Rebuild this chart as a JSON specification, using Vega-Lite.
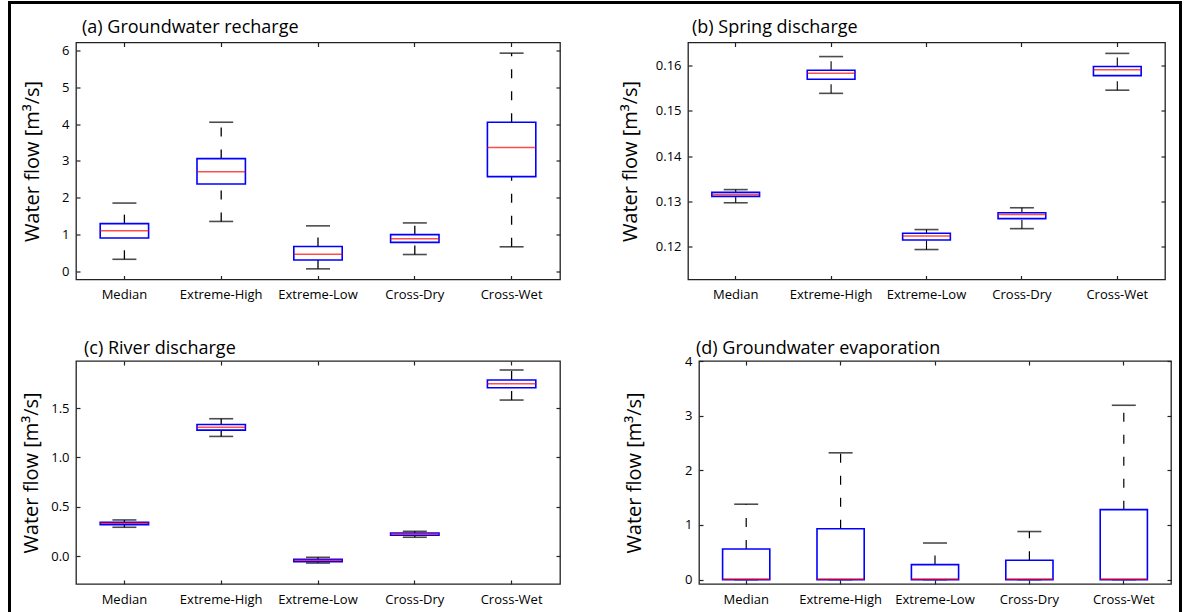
{
  "$schema": "https://vega.github.io/schema/vega-lite/v6.json",
  "background": "white",
  "padding": {"left": 8, "top": 1, "right": 0, "bottom": 0},
  "config": {
    "font": "Open Sans",
    "view": {"stroke": "#222222", "strokeWidth": 1.3},
    "axis": {
      "grid": false,
      "domain": false,
      "labelFont": "Open Sans",
      "labelFontSize": 13,
      "labelColor": "#000000",
      "tickColor": "#222222",
      "tickWidth": 1.2,
      "tickSize": -4,
      "titleFont": "Open Sans",
      "titleFontWeight": "normal",
      "titleColor": "#000000"
    },
    "title": {
      "font": "Open Sans",
      "fontSize": 18,
      "fontWeight": "normal",
      "color": "#000000",
      "anchor": "start",
      "frame": "group",
      "offset": 4.5
    }
  },
  "datasets": {
    "flow": [
      {"panel": "a", "scenario": "Median", "lo": 0.32, "q1": 0.90, "med": 1.10, "q3": 1.29, "hi": 1.85},
      {"panel": "a", "scenario": "Extreme-High", "lo": 1.35, "q1": 2.37, "med": 2.70, "q3": 3.06, "hi": 4.05},
      {"panel": "a", "scenario": "Extreme-Low", "lo": 0.06, "q1": 0.30, "med": 0.46, "q3": 0.67, "hi": 1.23},
      {"panel": "a", "scenario": "Cross-Dry", "lo": 0.45, "q1": 0.78, "med": 0.88, "q3": 0.99, "hi": 1.31},
      {"panel": "a", "scenario": "Cross-Wet", "lo": 0.66, "q1": 2.57, "med": 3.36, "q3": 4.05, "hi": 5.93},
      {"panel": "b", "scenario": "Median", "lo": 0.1297, "q1": 0.1311, "med": 0.1315, "q3": 0.1320, "hi": 0.1326},
      {"panel": "b", "scenario": "Extreme-High", "lo": 0.1538, "q1": 0.1569, "med": 0.1582, "q3": 0.1589, "hi": 0.1619},
      {"panel": "b", "scenario": "Extreme-Low", "lo": 0.1194, "q1": 0.1215, "med": 0.1224, "q3": 0.1230, "hi": 0.1238},
      {"panel": "b", "scenario": "Cross-Dry", "lo": 0.1240, "q1": 0.1262, "med": 0.1271, "q3": 0.1275, "hi": 0.1286},
      {"panel": "b", "scenario": "Cross-Wet", "lo": 0.1545, "q1": 0.1577, "med": 0.1590, "q3": 0.1597, "hi": 0.1626},
      {"panel": "c", "scenario": "Median", "lo": 0.294, "q1": 0.321, "med": 0.334, "q3": 0.345, "hi": 0.368},
      {"panel": "c", "scenario": "Extreme-High", "lo": 1.213, "q1": 1.277, "med": 1.307, "q3": 1.334, "hi": 1.392},
      {"panel": "c", "scenario": "Extreme-Low", "lo": -0.068, "q1": -0.054, "med": -0.040, "q3": -0.030, "hi": -0.010},
      {"panel": "c", "scenario": "Cross-Dry", "lo": 0.193, "q1": 0.213, "med": 0.226, "q3": 0.236, "hi": 0.253},
      {"panel": "c", "scenario": "Cross-Wet", "lo": 1.581, "q1": 1.706, "med": 1.747, "q3": 1.784, "hi": 1.885},
      {"panel": "d", "scenario": "Median", "lo": 0, "q1": 0, "med": 0.005, "q3": 0.56, "hi": 1.38},
      {"panel": "d", "scenario": "Extreme-High", "lo": 0, "q1": 0, "med": 0.005, "q3": 0.93, "hi": 2.32},
      {"panel": "d", "scenario": "Extreme-Low", "lo": 0, "q1": 0, "med": 0.005, "q3": 0.275, "hi": 0.67},
      {"panel": "d", "scenario": "Cross-Dry", "lo": 0, "q1": 0, "med": 0.005, "q3": 0.354, "hi": 0.88},
      {"panel": "d", "scenario": "Cross-Wet", "lo": 0, "q1": 0, "med": 0.005, "q3": 1.28, "hi": 3.19}
    ]
  },
  "spacing": 0,
  "hconcat": [
    {
      "width": 3, "height": 640,
      "data": {"values": []},
      "mark": "rect",
      "encoding": {},
      "view": {"fill": "#000000", "stroke": null}
    },
    {
      "spacing": 14.5,
      "vconcat": [
        {
          "width": 1168, "height": 3,
          "data": {"values": []},
          "mark": "rect",
          "encoding": {},
          "view": {"fill": "#000000", "stroke": null}
        },
        {
          "spacing": 8,
          "hconcat": [
            {
              "width": 1, "height": 1,
              "data": {"values": []},
              "mark": "rect",
              "encoding": {},
              "view": {"stroke": null}
            },
            {
              "spacing": 35.5,
              "vconcat": [
                {
                  "spacing": 57,
                  "hconcat": [
                    {
                      "width": 484, "height": 237,
                      "title": {"text": "(a) Groundwater recharge", "dx": 6},
                      "data": {"name": "flow"},
                      "transform": [{"filter": "datum.panel === 'a'"}],
                      "encoding": {
                        "x": {"field": "scenario", "type": "nominal", "sort": ["Median", "Extreme-High", "Extreme-Low", "Cross-Dry", "Cross-Wet"], "scale": {"paddingInner": 0, "paddingOuter": 0}, "axis": null}
                      },
                      "resolve": {"axis": {"x": "independent", "y": "independent"}},
                      "layer": [
                        {
                          "mark": {"type": "rule", "color": "#000000", "strokeWidth": 1.3, "strokeDash": [9, 13]},
                          "encoding": {
                            "x": {"field": "scenario", "type": "nominal", "sort": ["Median", "Extreme-High", "Extreme-Low", "Cross-Dry", "Cross-Wet"], "scale": {"paddingInner": 0, "paddingOuter": 0}, "axis": {"orient": "bottom", "title": null, "labelAngle": 0, "labelPadding": 13}},
                            "y": {"field": "lo", "type": "quantitative", "scale": {"domain": [-0.23, 6.22], "nice": false, "zero": false}, "axis": {"orient": "left", "values": [0, 1, 2, 3, 4, 5, 6], "labelPadding": 11, "title": "Water flow [m³/s]", "titleFontSize": 20, "titleX": -38, "titleBaseline": "alphabetic"}},
                            "y2": {"field": "q1"}
                          }
                        },
                        {
                          "mark": {"type": "rule", "color": "#000000", "strokeWidth": 1.3, "strokeDash": [9, 13]},
                          "encoding": {
                            "x": {"field": "scenario", "type": "nominal", "sort": ["Median", "Extreme-High", "Extreme-Low", "Cross-Dry", "Cross-Wet"], "scale": {"paddingInner": 0, "paddingOuter": 0}, "axis": {"orient": "top", "title": null, "labels": false}},
                            "y": {"field": "q3", "type": "quantitative", "scale": {"domain": [-0.23, 6.22], "nice": false, "zero": false}, "axis": {"orient": "right", "values": [0, 1, 2, 3, 4, 5, 6], "labels": false, "title": null}},
                            "y2": {"field": "hi"}
                          }
                        },
                        {
                          "mark": {"type": "tick", "orient": "horizontal", "color": "#000000", "size": 24, "thickness": 1.6},
                          "encoding": {"y": {"field": "lo", "type": "quantitative", "scale": {"domain": [-0.23, 6.22], "nice": false, "zero": false}, "axis": null}}
                        },
                        {
                          "mark": {"type": "tick", "orient": "horizontal", "color": "#000000", "size": 24, "thickness": 1.6},
                          "encoding": {"y": {"field": "hi", "type": "quantitative", "scale": {"domain": [-0.23, 6.22], "nice": false, "zero": false}, "axis": null}}
                        },
                        {
                          "mark": {"type": "bar", "width": {"band": 0.5}, "fill": "#ffffff", "stroke": "#0000ff", "strokeWidth": 1.6},
                          "encoding": {"y": {"field": "q1", "type": "quantitative", "scale": {"domain": [-0.23, 6.22], "nice": false, "zero": false}, "axis": null}, "y2": {"field": "q3"}}
                        },
                        {
                          "mark": {"type": "tick", "orient": "horizontal", "color": "#ff0000", "size": 48.4, "thickness": 1.5},
                          "encoding": {"y": {"field": "med", "type": "quantitative", "scale": {"domain": [-0.23, 6.22], "nice": false, "zero": false}, "axis": null}}
                        }
                      ]
                    },
                    {
                      "width": 477, "height": 237,
                      "title": {"text": "(b) Spring discharge", "dx": 4},
                      "data": {"name": "flow"},
                      "transform": [{"filter": "datum.panel === 'b'"}],
                      "encoding": {
                        "x": {"field": "scenario", "type": "nominal", "sort": ["Median", "Extreme-High", "Extreme-Low", "Cross-Dry", "Cross-Wet"], "scale": {"paddingInner": 0, "paddingOuter": 0}, "axis": null}
                      },
                      "resolve": {"axis": {"x": "independent", "y": "independent"}},
                      "layer": [
                        {
                          "mark": {"type": "rule", "color": "#000000", "strokeWidth": 1.1, "strokeDash": [9, 13]},
                          "encoding": {
                            "x": {"field": "scenario", "type": "nominal", "sort": ["Median", "Extreme-High", "Extreme-Low", "Cross-Dry", "Cross-Wet"], "scale": {"paddingInner": 0, "paddingOuter": 0}, "axis": {"orient": "bottom", "title": null, "labelAngle": 0, "labelPadding": 13}},
                            "y": {"field": "lo", "type": "quantitative", "scale": {"domain": [0.1128, 0.165], "nice": false, "zero": false}, "axis": {"orient": "left", "values": [0.12, 0.13, 0.14, 0.15, 0.16], "format": ".2f", "labelPadding": 11, "title": "Water flow [m³/s]", "titleFontSize": 20, "titleX": -52, "titleBaseline": "alphabetic"}},
                            "y2": {"field": "q1"}
                          }
                        },
                        {
                          "mark": {"type": "rule", "color": "#000000", "strokeWidth": 1.1, "strokeDash": [9, 13]},
                          "encoding": {
                            "x": {"field": "scenario", "type": "nominal", "sort": ["Median", "Extreme-High", "Extreme-Low", "Cross-Dry", "Cross-Wet"], "scale": {"paddingInner": 0, "paddingOuter": 0}, "axis": {"orient": "top", "title": null, "labels": false}},
                            "y": {"field": "q3", "type": "quantitative", "scale": {"domain": [0.1128, 0.165], "nice": false, "zero": false}, "axis": {"orient": "right", "values": [0.12, 0.13, 0.14, 0.15, 0.16], "labels": false, "title": null}},
                            "y2": {"field": "hi"}
                          }
                        },
                        {
                          "mark": {"type": "tick", "orient": "horizontal", "color": "#000000", "size": 24, "thickness": 1.6},
                          "encoding": {"y": {"field": "lo", "type": "quantitative", "scale": {"domain": [0.1128, 0.165], "nice": false, "zero": false}, "axis": null}}
                        },
                        {
                          "mark": {"type": "tick", "orient": "horizontal", "color": "#000000", "size": 24, "thickness": 1.6},
                          "encoding": {"y": {"field": "hi", "type": "quantitative", "scale": {"domain": [0.1128, 0.165], "nice": false, "zero": false}, "axis": null}}
                        },
                        {
                          "mark": {"type": "bar", "width": {"band": 0.5}, "fill": "#ffffff", "stroke": "#0000ff", "strokeWidth": 1.6},
                          "encoding": {"y": {"field": "q1", "type": "quantitative", "scale": {"domain": [0.1128, 0.165], "nice": false, "zero": false}, "axis": null}, "y2": {"field": "q3"}}
                        },
                        {
                          "mark": {"type": "tick", "orient": "horizontal", "color": "#ff0000", "size": 47.7, "thickness": 1.5},
                          "encoding": {"y": {"field": "med", "type": "quantitative", "scale": {"domain": [0.1128, 0.165], "nice": false, "zero": false}, "axis": null}}
                        }
                      ]
                    }
                  ]
                },
                {
                  "spacing": 61,
                  "hconcat": [
                    {
                      "width": 484, "height": 223,
                      "title": {"text": "(c) River discharge", "dx": 8, "offset": 2.5},
                      "data": {"name": "flow"},
                      "transform": [{"filter": "datum.panel === 'c'"}],
                      "encoding": {
                        "x": {"field": "scenario", "type": "nominal", "sort": ["Median", "Extreme-High", "Extreme-Low", "Cross-Dry", "Cross-Wet"], "scale": {"paddingInner": 0, "paddingOuter": 0}, "axis": null}
                      },
                      "resolve": {"axis": {"x": "independent", "y": "independent"}},
                      "layer": [
                        {
                          "mark": {"type": "rule", "color": "#000000", "strokeWidth": 1.3, "strokeDash": [9, 13]},
                          "encoding": {
                            "x": {"field": "scenario", "type": "nominal", "sort": ["Median", "Extreme-High", "Extreme-Low", "Cross-Dry", "Cross-Wet"], "scale": {"paddingInner": 0, "paddingOuter": 0}, "axis": {"orient": "bottom", "title": null, "labelAngle": 0, "labelPadding": 13}},
                            "y": {"field": "lo", "type": "quantitative", "scale": {"domain": [-0.28, 1.976], "nice": false, "zero": false}, "axis": {"orient": "left", "values": [0, 0.5, 1, 1.5], "format": ".1f", "labelPadding": 11, "title": "Water flow [m³/s]", "titleFontSize": 20, "titleX": -39, "titleBaseline": "alphabetic"}},
                            "y2": {"field": "q1"}
                          }
                        },
                        {
                          "mark": {"type": "rule", "color": "#000000", "strokeWidth": 1.3, "strokeDash": [9, 13]},
                          "encoding": {
                            "x": {"field": "scenario", "type": "nominal", "sort": ["Median", "Extreme-High", "Extreme-Low", "Cross-Dry", "Cross-Wet"], "scale": {"paddingInner": 0, "paddingOuter": 0}, "axis": {"orient": "top", "title": null, "labels": false}},
                            "y": {"field": "q3", "type": "quantitative", "scale": {"domain": [-0.28, 1.976], "nice": false, "zero": false}, "axis": {"orient": "right", "values": [0, 0.5, 1, 1.5], "labels": false, "title": null}},
                            "y2": {"field": "hi"}
                          }
                        },
                        {
                          "mark": {"type": "tick", "orient": "horizontal", "color": "#000000", "size": 24, "thickness": 1.6},
                          "encoding": {"y": {"field": "lo", "type": "quantitative", "scale": {"domain": [-0.28, 1.976], "nice": false, "zero": false}, "axis": null}}
                        },
                        {
                          "mark": {"type": "tick", "orient": "horizontal", "color": "#000000", "size": 24, "thickness": 1.6},
                          "encoding": {"y": {"field": "hi", "type": "quantitative", "scale": {"domain": [-0.28, 1.976], "nice": false, "zero": false}, "axis": null}}
                        },
                        {
                          "mark": {"type": "bar", "width": {"band": 0.5}, "fill": "#ffffff", "stroke": "#0000ff", "strokeWidth": 1.6},
                          "encoding": {"y": {"field": "q1", "type": "quantitative", "scale": {"domain": [-0.28, 1.976], "nice": false, "zero": false}, "axis": null}, "y2": {"field": "q3"}}
                        },
                        {
                          "mark": {"type": "tick", "orient": "horizontal", "color": "#ff0000", "size": 48.4, "thickness": 1.5},
                          "encoding": {"y": {"field": "med", "type": "quantitative", "scale": {"domain": [-0.28, 1.976], "nice": false, "zero": false}, "axis": null}}
                        }
                      ]
                    },
                    {
                      "width": 472, "height": 223,
                      "title": {"text": "(d) Groundwater evaporation", "dx": -3, "offset": -2.5},
                      "data": {"name": "flow"},
                      "transform": [{"filter": "datum.panel === 'd'"}],
                      "encoding": {
                        "x": {"field": "scenario", "type": "nominal", "sort": ["Median", "Extreme-High", "Extreme-Low", "Cross-Dry", "Cross-Wet"], "scale": {"paddingInner": 0, "paddingOuter": 0}, "axis": null}
                      },
                      "resolve": {"axis": {"x": "independent", "y": "independent"}},
                      "layer": [
                        {
                          "mark": {"type": "rule", "color": "#000000", "strokeWidth": 1.2, "strokeDash": [9, 13]},
                          "encoding": {
                            "x": {"field": "scenario", "type": "nominal", "sort": ["Median", "Extreme-High", "Extreme-Low", "Cross-Dry", "Cross-Wet"], "scale": {"paddingInner": 0, "paddingOuter": 0}, "axis": {"orient": "bottom", "title": null, "labelAngle": 0, "labelPadding": 13}},
                            "y": {"field": "lo", "type": "quantitative", "scale": {"domain": [-0.08, 4], "nice": false, "zero": false}, "axis": {"orient": "left", "values": [0, 1, 2, 3, 4], "labelPadding": 11, "title": "Water flow [m³/s]", "titleFontSize": 20, "titleX": -59, "titleBaseline": "alphabetic"}},
                            "y2": {"field": "q1"}
                          }
                        },
                        {
                          "mark": {"type": "rule", "color": "#000000", "strokeWidth": 1.2, "strokeDash": [9, 13]},
                          "encoding": {
                            "x": {"field": "scenario", "type": "nominal", "sort": ["Median", "Extreme-High", "Extreme-Low", "Cross-Dry", "Cross-Wet"], "scale": {"paddingInner": 0, "paddingOuter": 0}, "axis": {"orient": "top", "title": null, "labels": false}},
                            "y": {"field": "q3", "type": "quantitative", "scale": {"domain": [-0.08, 4], "nice": false, "zero": false}, "axis": {"orient": "right", "values": [0, 1, 2, 3, 4], "labels": false, "title": null}},
                            "y2": {"field": "hi"}
                          }
                        },
                        {
                          "mark": {"type": "tick", "orient": "horizontal", "color": "#000000", "size": 24, "thickness": 1.6},
                          "encoding": {"y": {"field": "lo", "type": "quantitative", "scale": {"domain": [-0.08, 4], "nice": false, "zero": false}, "axis": null}}
                        },
                        {
                          "mark": {"type": "tick", "orient": "horizontal", "color": "#000000", "size": 24, "thickness": 1.6},
                          "encoding": {"y": {"field": "hi", "type": "quantitative", "scale": {"domain": [-0.08, 4], "nice": false, "zero": false}, "axis": null}}
                        },
                        {
                          "mark": {"type": "bar", "width": {"band": 0.5}, "fill": "#ffffff", "stroke": "#0000ff", "strokeWidth": 1.6},
                          "encoding": {"y": {"field": "q1", "type": "quantitative", "scale": {"domain": [-0.08, 4], "nice": false, "zero": false}, "axis": null}, "y2": {"field": "q3"}}
                        },
                        {
                          "mark": {"type": "tick", "orient": "horizontal", "color": "#ff0000", "size": 47.2, "thickness": 1.5},
                          "encoding": {"y": {"field": "med", "type": "quantitative", "scale": {"domain": [-0.08, 4], "nice": false, "zero": false}, "axis": null}}
                        }
                      ]
                    }
                  ]
                }
              ]
            }
          ]
        }
      ]
    },
    {
      "width": 3, "height": 640,
      "data": {"values": []},
      "mark": "rect",
      "encoding": {},
      "view": {"fill": "#000000", "stroke": null}
    }
  ]
}
